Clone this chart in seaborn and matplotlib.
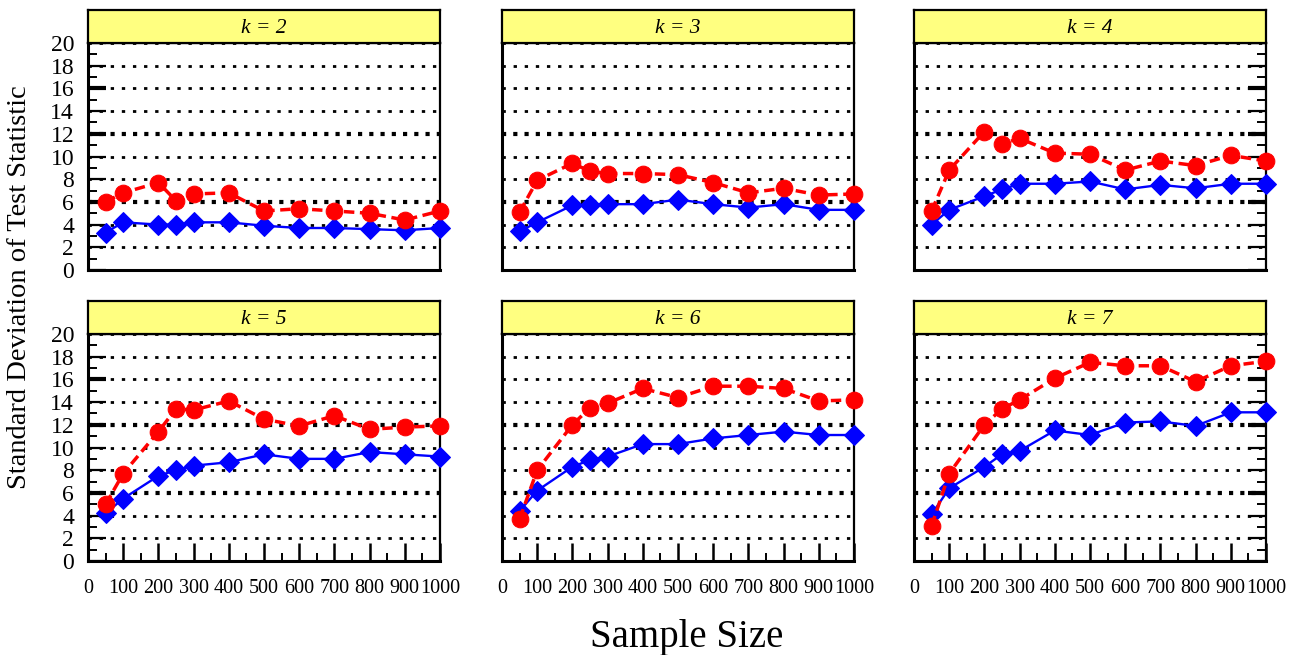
import numpy as np
import pandas as pd
import matplotlib.pyplot as plt
import seaborn as sns
from matplotlib.ticker import MultipleLocator

sample_sizes = [50, 100, 200, 250, 300, 400, 500, 600, 700, 800, 900, 1000]
k_values = [2, 3, 4, 5, 6, 7]

# red dashed series (circles)
red_k2 = [6.0, 6.8, 7.7, 6.1, 6.7, 6.8, 5.2, 5.4, 5.2, 5.0, 4.4, 5.2]
red_k3 = [5.1, 7.9, 9.4, 8.7, 8.5, 8.5, 8.4, 7.7, 6.8, 7.2, 6.6, 6.7]
red_k4 = [5.2, 8.8, 12.2, 11.1, 11.6, 10.3, 10.2, 8.8, 9.6, 9.2, 10.1, 9.6]
red_k5 = [5.0, 7.7, 11.4, 13.4, 13.3, 14.1, 12.5, 11.9, 12.8, 11.6, 11.8, 11.9]
red_k6 = [3.7, 8.0, 12.0, 13.5, 13.9, 15.2, 14.4, 15.4, 15.4, 15.2, 14.1, 14.2]
red_k7 = [3.1, 7.7, 12.0, 13.4, 14.2, 16.1, 17.5, 17.2, 17.2, 15.8, 17.2, 17.6]

# blue solid series (diamonds)
blue_k2 = [3.3, 4.2, 4.0, 4.0, 4.2, 4.2, 3.9, 3.7, 3.7, 3.6, 3.5, 3.7]
blue_k3 = [3.4, 4.2, 5.7, 5.7, 5.8, 5.8, 6.2, 5.8, 5.5, 5.8, 5.3, 5.3]
blue_k4 = [4.0, 5.3, 6.5, 7.1, 7.6, 7.6, 7.8, 7.1, 7.5, 7.2, 7.6, 7.6]
blue_k5 = [4.2, 5.5, 7.5, 8.0, 8.4, 8.7, 9.4, 9.0, 9.0, 9.6, 9.4, 9.2]
blue_k6 = [4.4, 6.2, 8.3, 8.9, 9.2, 10.3, 10.3, 10.8, 11.1, 11.4, 11.1, 11.1]
blue_k7 = [4.1, 6.4, 8.3, 9.4, 9.7, 11.5, 11.1, 12.2, 12.3, 11.9, 13.1, 13.1]

red_all = [red_k2, red_k3, red_k4, red_k5, red_k6, red_k7]
blue_all = [blue_k2, blue_k3, blue_k4, blue_k5, blue_k6, blue_k7]

rows = []
for k, r, b in zip(k_values, red_all, blue_all):
    for n, rv, bv in zip(sample_sizes, r, b):
        rows.append((k, n, "red", rv))
        rows.append((k, n, "blue", bv))
df = pd.DataFrame(rows, columns=["k", "n", "series", "sd"])

sns.set_style("white")
plt.rcParams["font.family"] = ["Liberation Serif", "DejaVu Serif"]
plt.rcParams["text.color"] = "black"
plt.rcParams["xtick.color"] = "black"
plt.rcParams["ytick.color"] = "black"
plt.rcParams["xtick.labelcolor"] = "black"
plt.rcParams["ytick.labelcolor"] = "black"

fig = plt.figure(figsize=(13, 6.55), dpi=100)

lefts = [88 / 1300, 502 / 1300, 914 / 1300]
bottoms = [1 - 270 / 655, 1 - 561 / 655]
pw = 352 / 1300
ph = 227 / 655
sh = 33 / 655

for i, k in enumerate(k_values):
    row, col = i // 3, i % 3
    ax = fig.add_axes([lefts[col], bottoms[row], pw, ph])
    sub = df[df.k == k]

    sns.lineplot(data=sub[sub.series == "blue"], x="n", y="sd", ax=ax,
                 color="#0000ff", lw=1.7, marker="D", markersize=10,
                 markeredgecolor="#0000ff", clip_on=False, zorder=3)
    sns.lineplot(data=sub[sub.series == "red"], x="n", y="sd", ax=ax,
                 color="#ff0000", lw=2.5, linestyle=(0, (3, 1.6)),
                 marker="o", markersize=12, markeredgecolor="#ff0000",
                 clip_on=False, zorder=4)

    ax.set_xlim(0, 1000)
    ax.set_ylim(0, 20)
    ax.set_xlabel("")
    ax.set_ylabel("")
    ax.set_facecolor("white")
    ax.set_axisbelow(True)

    ax.yaxis.set_major_locator(MultipleLocator(2))
    ax.yaxis.set_minor_locator(MultipleLocator(1))
    ax.xaxis.set_major_locator(MultipleLocator(100))
    ax.xaxis.set_minor_locator(MultipleLocator(50))

    ax.tick_params(which="both", direction="in", color="black", top=False)
    ax.tick_params(axis="y", which="major", length=13, width=1.6,
                   labelsize=17, pad=10)
    ax.tick_params(axis="y", which="minor", length=6.5, width=1.4)
    ax.tick_params(axis="x", which="major", length=13, width=1.8,
                   labelsize=14.5, pad=13)
    ax.tick_params(axis="x", which="minor", length=6, width=1.4)

    ax.tick_params(axis="y", which="both", left=(col == 0), right=(col == 2),
                   labelleft=(col == 0), labelright=False)
    ax.tick_params(axis="x", which="both", bottom=(row == 1),
                   labelbottom=(row == 1))

    ax.grid(axis="y", which="major", color="black", linewidth=2.0,
            linestyle=(0, (1.2, 2.8)))
    ax.grid(axis="x", visible=False)

    for loc, tick in zip(ax.yaxis.get_majorticklocs(), ax.yaxis.get_major_ticks()):
        if loc in (6, 12):
            tick.gridline.set_linewidth(3.0)
            tick.gridline.set_dashes((1, 1.7))
        if loc in (6, 12, 16):
            tick.tick1line.set_markeredgewidth(3)
            tick.tick2line.set_markeredgewidth(3)

    for name, sp in ax.spines.items():
        sp.set_color("black")
        sp.set_linewidth(2.2 if name in ("left", "bottom") else 1.6)
        sp.set_visible(True)

    sax = fig.add_axes([lefts[col], bottoms[row] + ph, pw, sh])
    sax.set_facecolor("#ffff80")
    sax.set_xticks([])
    sax.set_yticks([])
    for sp in sax.spines.values():
        sp.set_color("black")
        sp.set_linewidth(1.6)
        sp.set_visible(True)
    sax.text(0.5, 0.45, f"k = {k}", ha="center", va="center",
             style="italic", fontsize=15.5, transform=sax.transAxes)

fig.text(20 / 1300, 1 - 287 / 655, "Standard Deviation of Test Statistic",
         rotation=90, ha="center", va="center", fontsize=20.5)
fig.text(687 / 1300, 1 - 637 / 655, "Sample Size", ha="center", va="center",
         fontsize=28)

fig.savefig("out.png", dpi=100)
